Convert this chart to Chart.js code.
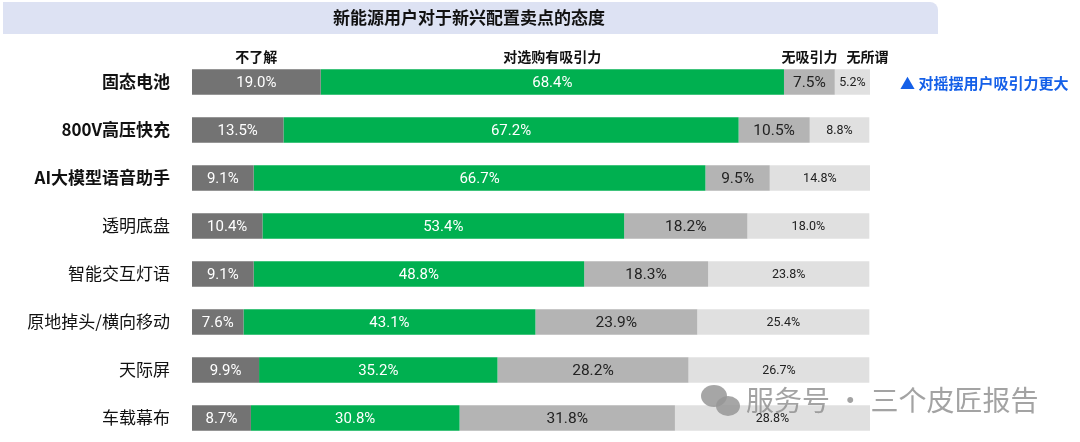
<!DOCTYPE html>
<html>
<head>
<meta charset="utf-8">
<script src="https://cdn.jsdelivr.net/npm/chart.js@4/dist/chart.umd.min.js"></script>
<style>
  html, body { margin: 0; padding: 0; background: #fff; overflow: hidden; }
  canvas { display: block; }
</style>
</head>
<body>
<canvas id="chartAttitude" width="1080" height="442"></canvas>
<script>
// 新能源用户对于新兴配置卖点的态度
const categories = ['固态电池', '800V高压快充', 'AI大模型语音助手', '透明底盘', '智能交互灯语', '原地掉头/横向移动', '天际屏', '车载幕布'];
const seriesNames = ['不了解', '对选购有吸引力', '无吸引力', '无所谓'];
const unknownVals = [19.0, 13.5, 9.1, 10.4, 9.1, 7.6, 9.9, 8.7];
const attractiveVals = [68.4, 67.2, 66.7, 53.4, 48.8, 43.1, 35.2, 30.8];
const unattractiveVals = [7.5, 10.5, 9.5, 18.2, 18.3, 23.9, 28.2, 31.8];
const indifferentVals = [5.2, 8.8, 14.8, 18.0, 23.8, 25.4, 26.7, 28.8];
const highlightedRows = 3; // las tres primeras filas van en negrita

const FONT = "Roboto, 'Noto Sans CJK SC', sans-serif";
const colors = ['#737373', '#00b050', '#b4b4b4', '#e0e0e0'];
const labelColors = ['#ffffff', '#ffffff', '#222222', '#222222'];
const labelSizes = [15, 15, 15.5, 12.5];

// Fondo del título y textos sueltos
const decorPlugin = {
  id: 'decor',
  beforeDraw(chart) {
    const ctx = chart.ctx;
    ctx.save();
    ctx.fillStyle = '#dde2f3';
    ctx.beginPath();
    ctx.roundRect(3, 2, 935, 32, [0, 8, 0, 0]);
    ctx.fill();
    ctx.fillStyle = '#111';
    ctx.font = "bold 17px 'Noto Sans CJK SC', sans-serif";
    ctx.textAlign = 'center';
    ctx.textBaseline = 'middle';
    ctx.fillText('新能源用户对于新兴配置卖点的态度', 469, 18);
    ctx.restore();
  },
  afterDraw(chart) {
    const ctx = chart.ctx;
    ctx.save();
    // leyenda sobre la primera barra
    ctx.font = "bold 14px 'Noto Sans CJK SC', sans-serif";
    ctx.fillStyle = '#111';
    ctx.textAlign = 'center';
    ctx.textBaseline = 'middle';
    seriesNames.forEach((name, i) => {
      const bar = chart.getDatasetMeta(i).data[0];
      let cx = (bar.x + bar.base) / 2;
      if (i === seriesNames.length - 1) cx += 15;
      ctx.fillText(name, cx, 57);
    });
    // anotación a la derecha
    const first = chart.getDatasetMeta(0).data[0];
    ctx.font = "bold 15px 'Noto Sans CJK SC', sans-serif";
    ctx.fillStyle = '#1560e8';
    ctx.textAlign = 'left';
    ctx.fillText('▲ 对摇摆用户吸引力更大', 900, first.y + 1);
    // marca de agua
    ctx.fillStyle = 'rgba(150,150,150,0.85)';
    ctx.beginPath();
    ctx.ellipse(714, 396, 13, 11, 0, 0, Math.PI * 2);
    ctx.fill();
    ctx.beginPath();
    ctx.ellipse(728, 406, 12, 10, 0, 0, Math.PI * 2);
    ctx.fill();
    ctx.font = "28px 'Noto Sans CJK SC', sans-serif";
    ctx.fillStyle = 'rgba(140,140,140,0.8)';
    ctx.fillText('服务号 · 三个皮匠报告', 746, 400);
    ctx.restore();
  }
};

// Etiquetas de porcentaje dentro de cada segmento
const valueLabelsPlugin = {
  id: 'valueLabels',
  afterDatasetsDraw(chart) {
    const ctx = chart.ctx;
    ctx.save();
    ctx.textAlign = 'center';
    ctx.textBaseline = 'middle';
    chart.data.datasets.forEach((ds, i) => {
      ctx.font = labelSizes[i] + 'px ' + FONT;
      ctx.fillStyle = labelColors[i];
      chart.getDatasetMeta(i).data.forEach((bar, j) => {
        const cx = (bar.x + bar.base) / 2;
        ctx.fillText(ds.data[j].toFixed(1) + '%', cx, bar.y + 1);
      });
    });
    ctx.restore();
  }
};

const valueLists = [unknownVals, attractiveVals, unattractiveVals, indifferentVals];

new Chart(document.getElementById('chartAttitude').getContext('2d'), {
  type: 'bar',
  data: {
    labels: categories,
    datasets: seriesNames.map((name, i) => ({
      label: name,
      data: valueLists[i],
      backgroundColor: colors[i],
      borderWidth: 0,
      barPercentage: 0.53,
      categoryPercentage: 1
    }))
  },
  options: {
    indexAxis: 'y',
    responsive: false,
    animation: false,
    layout: { padding: { top: 58, right: 210, bottom: 0, left: 0 } },
    plugins: {
      legend: { display: false },
      tooltip: { enabled: false }
    },
    scales: {
      x: {
        stacked: true,
        min: 0,
        max: 100.1,
        display: false
      },
      y: {
        stacked: true,
        grid: { display: false },
        border: { display: false },
        afterFit(scale) {
          scale.width = 192;
          scale.paddingTop = 0;
          scale.paddingBottom = 0;
        },
        ticks: {
          padding: 14,
          color: '#111',
          font: (c) => ({
            family: "'Noto Sans CJK SC', sans-serif",
            size: 17,
            weight: c.index < highlightedRows ? 'bold' : 'normal'
          })
        }
      }
    }
  },
  plugins: [decorPlugin, valueLabelsPlugin]
});
</script>
</body>
</html>
